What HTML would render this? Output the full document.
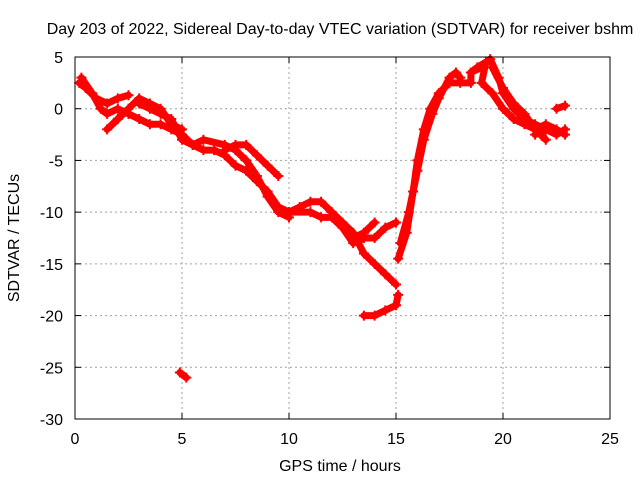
<!DOCTYPE html>
<html><head><meta charset="utf-8"><style>
body{margin:0;background:#fff}
svg{font-family:"Liberation Sans",Arial,sans-serif;font-size:16px}
</style></head><body>
<svg width="640" height="480">
<rect width="640" height="480" fill="#fff"/>
<g id="grid"></g><g id="data"></g><g id="axes"></g>
<text x="340" y="34" text-anchor="middle">Day 203 of 2022, Sidereal Day-to-day VTEC variation (SDTVAR) for receiver bshm</text>
<text x="340" y="471" text-anchor="middle">GPS time / hours</text>
<text transform="translate(19,238) rotate(-90)" text-anchor="middle">SDTVAR / TECUs</text>
</svg>
<script>
const xTicks=[0,5,10,15,20,25];
const yTicks=[-30,-25,-20,-15,-10,-5,0,5];
const tracks=[
[[0.2,2.5],[0.5,2],[1,1],[1.5,0.5],[2,1],[2.5,1.3]],
[[0.3,3],[0.8,1.5],[1.2,0],[1.5,-0.5],[2,0],[2.5,-0.5]],
[[1.5,-2],[2,-1],[2.5,0],[3,1],[3.5,0.5],[4,0],[4.5,-1.5],[5,-2]],
[[2.5,-0.5],[3,-1],[3.5,-1.5],[4,-1.5],[4.5,-2],[5,-2.5],[5.5,-3.5],[6,-4],[6.5,-4],[7,-4.5],[7.5,-5.5],[8,-6],[8.5,-7],[9,-8],[9.5,-9.5],[10,-10]],
[[3,0.5],[3.5,0],[4,-0.5],[4.5,-1],[5,-3],[5.5,-3.5],[6,-3],[7,-3.5],[7.5,-4],[8,-5],[8.5,-6.5],[9,-8.5],[9.5,-10],[10,-10.5]],
[[7,-4],[7.5,-3.5],[8,-3.5],[8.5,-4.5],[9,-5.5],[9.5,-6.5]],
[[9.5,-9.5],[10,-10],[10.5,-9.5],[11,-9],[11.5,-9],[12,-10],[12.5,-11],[13,-12],[13.5,-14],[14,-15],[14.5,-16],[15,-17]],
[[10,-10],[11,-10],[11.5,-10.5],[12,-10.5],[12.5,-11.5],[13,-13],[13.5,-12.5],[14,-12.5],[14.5,-11.5],[15,-11]],
[[12.5,-11],[13,-12.5],[13.5,-12],[14,-11]],
[[13.5,-20],[14,-20],[14.5,-19.5],[15,-19],[15.1,-18]],
[[4.9,-25.5],[5.2,-26]],
[[15.1,-14.5],[15.5,-12],[15.8,-8],[16,-5],[16.3,-2],[16.6,0],[17,1.5],[17.5,2.5],[18,2.5],[18.5,2.5],[18.5,3.5],[19,4],[19.4,4.8],[19.8,3],[20,1.5],[20.5,0],[21,-1],[21.5,-1.5],[22,-2]],
[[15.2,-13],[15.6,-10],[16,-6],[16.3,-3],[16.7,-0.5],[17,1],[17.5,3],[17.8,3.5],[18,3]],
[[18.5,3.5],[18.8,4],[19.2,4.5],[19,2.5],[19.5,1.5],[20,0],[20.5,-1],[21,-1.5],[21.5,-2],[22,-3]],
[[19.5,4],[20,2],[20.5,0.5],[21,-0.5],[21.5,-2],[22,-1.5],[22.5,-2],[22.9,-2.5]],
[[22.5,0],[22.9,0.3]],
[[21.5,-2.5],[22,-2],[22.5,-2.5],[22.9,-2]]
];
const L=75,R=610,T=57,B=419;
const sx=v=>L+(v-0)/25*(R-L);
const sy=v=>B-(v+30)/35*(B-T);
const NS='http://www.w3.org/2000/svg';
function mk(tag,attrs,parent){const e=document.createElementNS(NS,tag);for(const k in attrs)e.setAttribute(k,attrs[k]);parent.appendChild(e);return e;}
const grid=document.getElementById('grid'),axes=document.getElementById('axes'),data=document.getElementById('data');
xTicks.forEach(t=>{
 if(t>0&&t<25){const g=mk('line',{x1:sx(t),x2:sx(t),y1:T,y2:B,stroke:'#a0a0a0','stroke-dasharray':'2,3'},grid);
 
 }
 mk('line',{x1:sx(t),x2:sx(t),y1:B,y2:B-6,stroke:'#000'},axes);
 mk('line',{x1:sx(t),x2:sx(t),y1:T,y2:T+6,stroke:'#000'},axes);
 const tx=mk('text',{x:sx(t),y:B+25,'text-anchor':'middle'},axes);tx.textContent=t;
 
 
});
yTicks.forEach(t=>{
 if(t>-30&&t<5){const g=mk('line',{x1:L,x2:R,y1:sy(t),y2:sy(t),stroke:'#a0a0a0','stroke-dasharray':'2,3'},grid);
 
 }
 mk('line',{x1:L,x2:L+6,y1:sy(t),y2:sy(t),stroke:'#000'},axes);
 mk('line',{x1:R,x2:R-6,y1:sy(t),y2:sy(t),stroke:'#000'},axes);
 const tx=mk('text',{x:L-12,y:sy(t)+6,'text-anchor':'end'},axes);tx.textContent=t;
 
 
});
const fr=mk('rect',{x:L,y:T,width:R-L,height:B-T,fill:'none',stroke:'#000','stroke-width':1},axes);


tracks.forEach((tr,i)=>{
 const p=mk('polyline',{points:tr.map(d=>sx(d[0])+','+sy(d[1])).join(' '),fill:'none',stroke:'#ff0000','stroke-width':7,'stroke-linejoin':'round','stroke-linecap':'round'},data);
 
 
 tr.forEach(d=>{
  const m=mk('path',{d:`M${sx(d[0])-5},${sy(d[1])}h10M${sx(d[0])},${sy(d[1])-5}v10`,stroke:'#ff0000','stroke-width':2},data);
  
  
 });
});
</script>
</body></html>
